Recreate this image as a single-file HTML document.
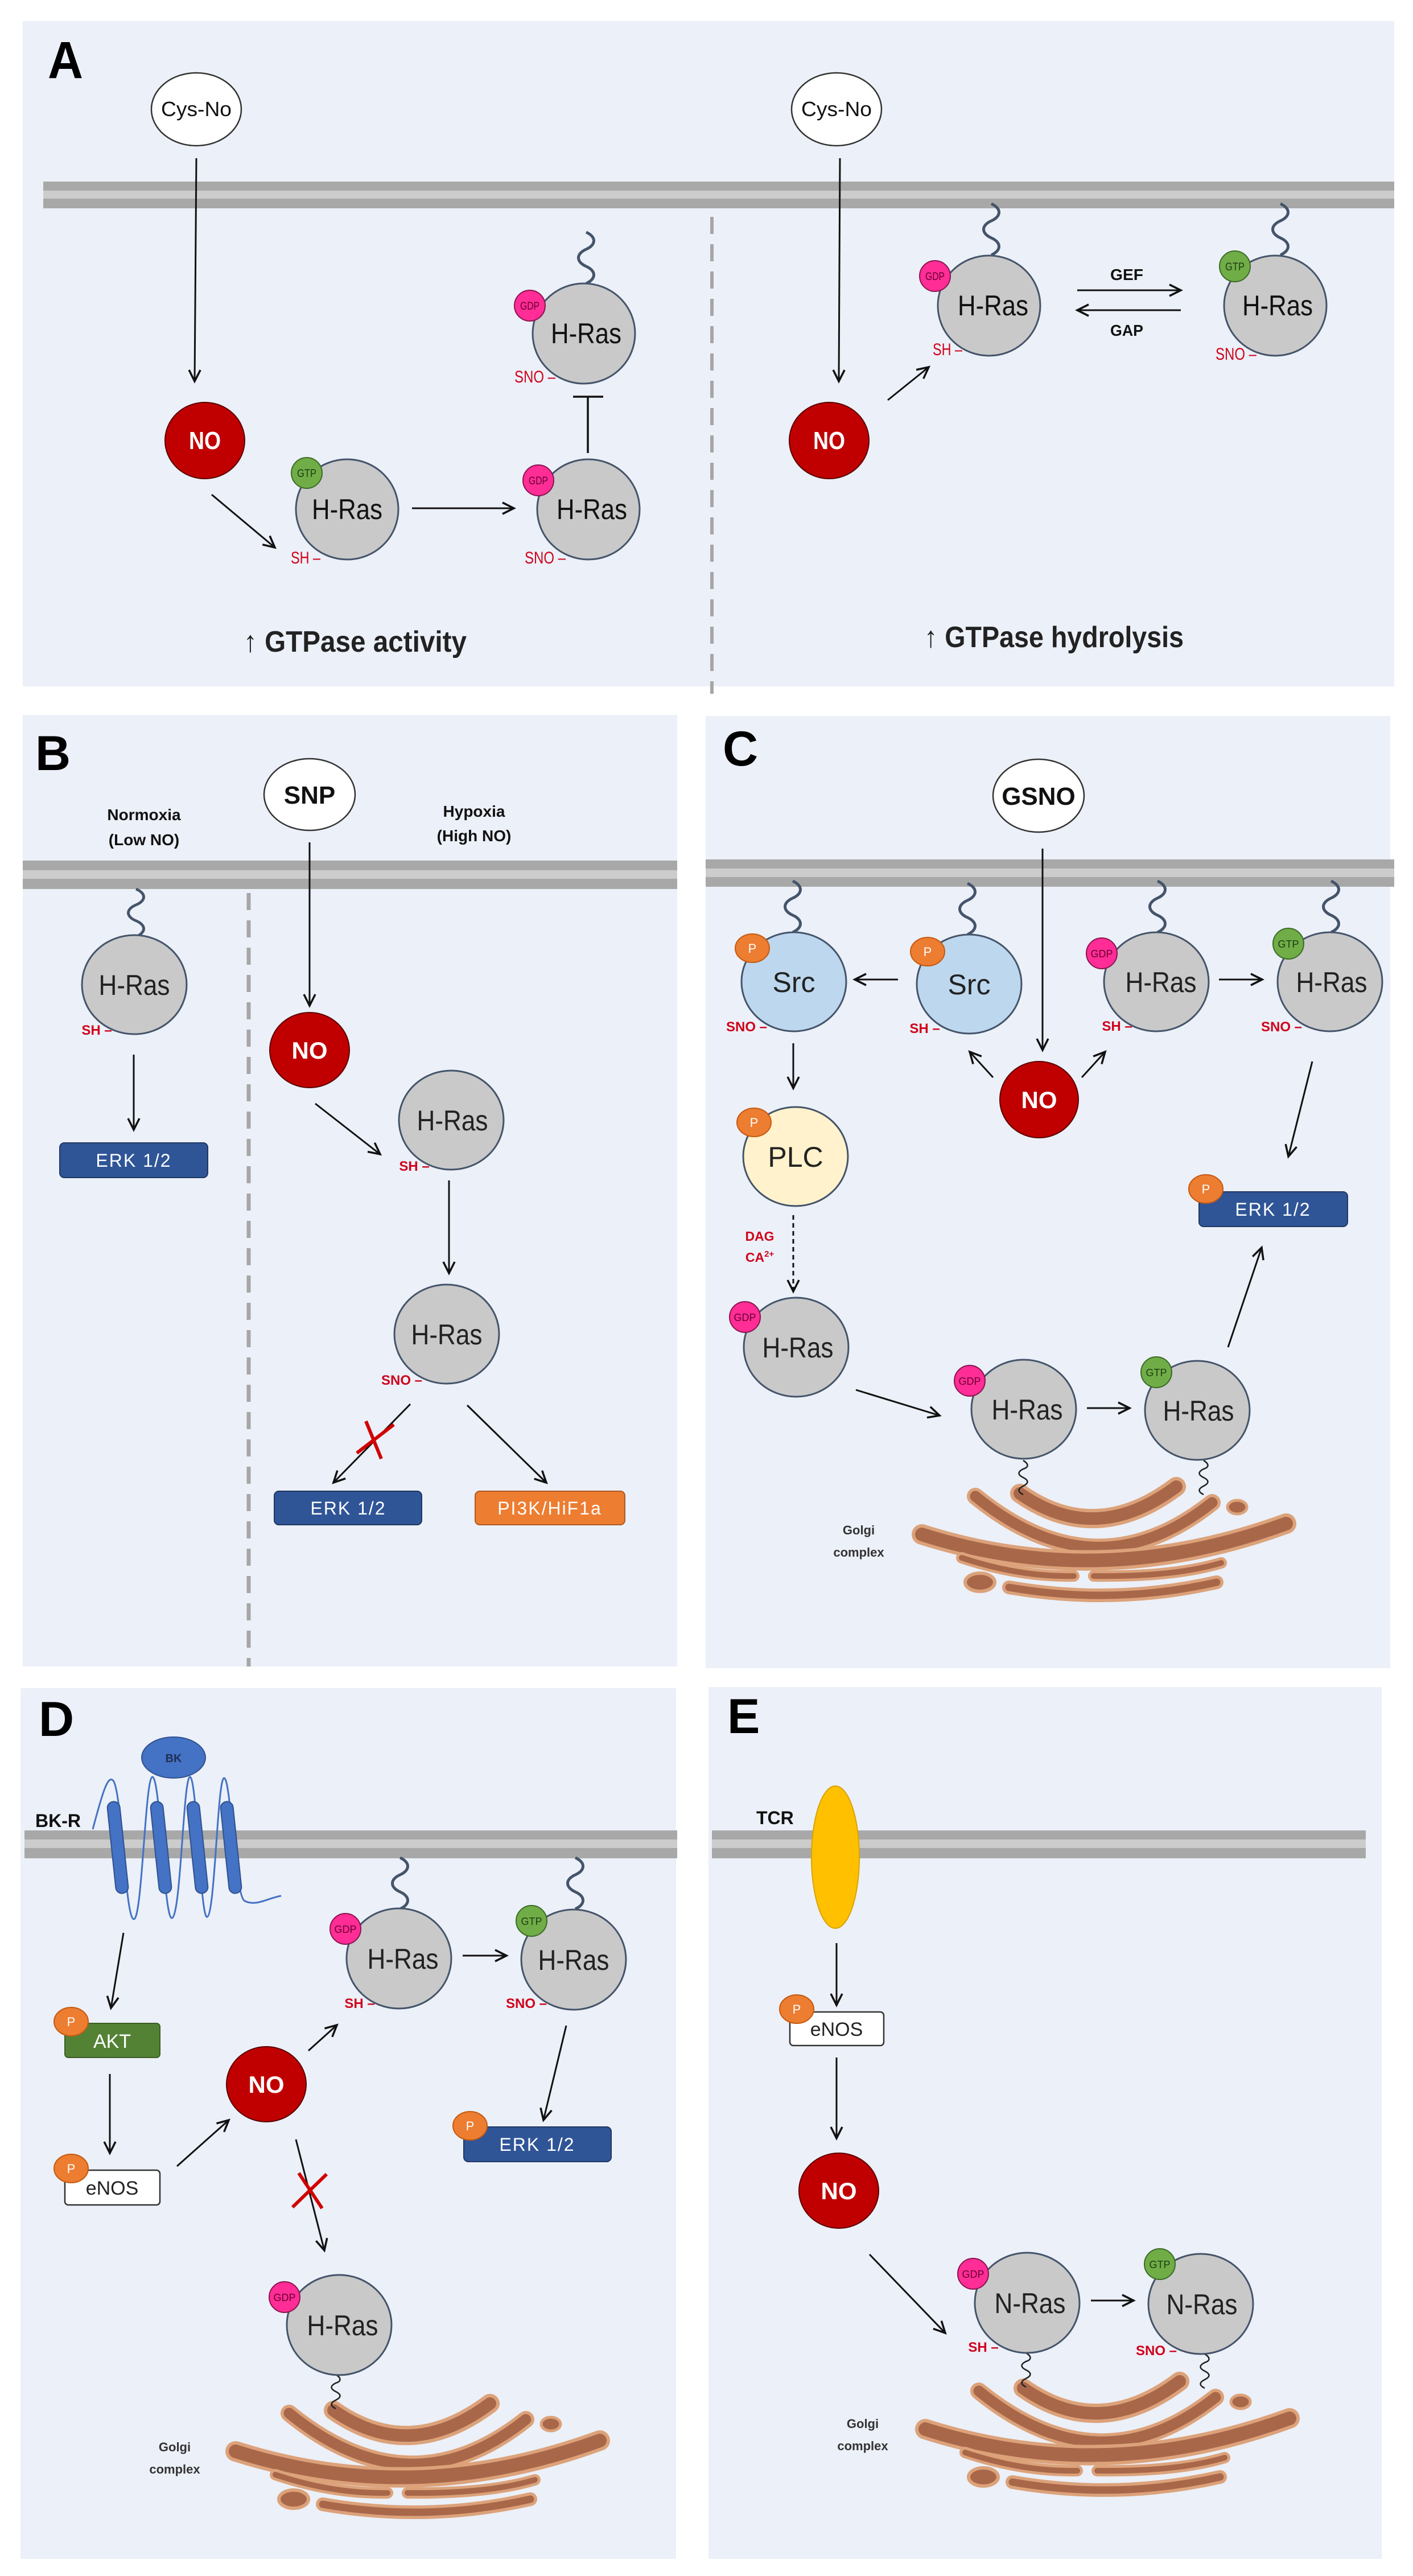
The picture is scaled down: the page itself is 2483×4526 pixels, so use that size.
<!DOCTYPE html>
<html><head><meta charset="utf-8">
<style>
html,body{margin:0;padding:0;background:#fff;}
svg{display:block;}
.n{font-family:"Liberation Sans Narrow","Liberation Sans",sans-serif;}
.s{font-family:"Liberation Sans","DejaVu Sans",sans-serif;}
</style></head>
<body>
<svg width="2483" height="4526" viewBox="0 0 2483 4526" xmlns="http://www.w3.org/2000/svg">
<defs>
<marker id="ah" markerUnits="userSpaceOnUse" markerWidth="26" markerHeight="26" refX="22" refY="12" orient="auto">
<path d="M2,2 L22,12 L2,22" fill="none" stroke="#111" stroke-width="3.5"/>
</marker>
<g id="golgi">
<g fill="none" stroke-linecap="round">
<path d="M180,28 Q314,122 455,16" stroke="#dca27a" stroke-width="34"/>
<path d="M180,28 Q314,122 455,16" stroke="#a9674a" stroke-width="22"/>
<path d="M102,33 Q314,206 518,44" stroke="#dca27a" stroke-width="30"/>
<path d="M102,33 Q314,206 518,44" stroke="#a9674a" stroke-width="19"/>
<path d="M8,100 Q322,200 648,81" stroke="#dca27a" stroke-width="36"/>
<path d="M8,100 Q322,200 648,81" stroke="#a9674a" stroke-width="24"/>
<path d="M78,141 Q180,175 275,173" stroke="#dca27a" stroke-width="20"/>
<path d="M78,141 Q180,175 275,173" stroke="#a9674a" stroke-width="10"/>
<path d="M310,173 Q450,175 534,150" stroke="#dca27a" stroke-width="20"/>
<path d="M310,173 Q450,175 534,150" stroke="#a9674a" stroke-width="10"/>
<path d="M161,193 Q345,225 526,184" stroke="#dca27a" stroke-width="24"/>
<path d="M161,193 Q345,225 526,184" stroke="#a9674a" stroke-width="13"/>
</g>
<ellipse cx="562" cy="52" rx="17" ry="12" fill="#a9674a" stroke="#dca27a" stroke-width="5"/>
<ellipse cx="110" cy="184" rx="26" ry="16" fill="#a9674a" stroke="#dca27a" stroke-width="6"/>
</g>
<path id="sq" d="M0,0 c18,8 18,22 0,30 c-18,8 -18,22 0,30 c18,8 18,22 0,30" fill="none" stroke="#44546a" stroke-width="5"/>
<path id="sqt" d="M0,0 c10,6 10,12 0,15 c-10,5 -10,10 0,15 c10,5 10,10 0,15 c-10,5 -10,10 0,15" fill="none" stroke="#222" stroke-width="2.5"/>
</defs>

<rect width="2483" height="4526" fill="#fff"/>
<rect x="40" y="37" width="2410" height="1169" fill="#ecf0f8"/>
<rect x="40" y="1256" width="1150" height="1672" fill="#ecf0f8"/>
<rect x="1240" y="1258" width="1203" height="1673" fill="#ecf0f8"/>
<rect x="36" y="2966" width="1152" height="1530" fill="#ecf0f8"/>
<rect x="1245" y="2964" width="1183" height="1532" fill="#ecf0f8"/>

<g>
<rect x="76" y="319" width="2374" height="47" fill="#a8a8a8"/><rect x="76" y="335" width="2374" height="14" fill="#cccccc"/>
<rect x="40" y="1512" width="1150" height="50" fill="#a8a8a8"/><rect x="40" y="1529" width="1150" height="15" fill="#cccccc"/>
<rect x="1240" y="1510" width="1210" height="48" fill="#a8a8a8"/><rect x="1240" y="1526" width="1210" height="15" fill="#cccccc"/>
<rect x="43" y="3216" width="1147" height="49" fill="#a8a8a8"/><rect x="43" y="3232" width="1147" height="15" fill="#cccccc"/>
<rect x="1251" y="3216" width="1149" height="49" fill="#a8a8a8"/><rect x="1251" y="3232" width="1149" height="15" fill="#cccccc"/>
</g>

<g class="s" font-weight="bold" fill="#000">
<text x="84" y="137" font-size="92" textLength="62" lengthAdjust="spacingAndGlyphs">A</text>
<text x="62" y="1353" font-size="86">B</text>
<text x="1270" y="1345" font-size="86">C</text>
<text x="68" y="3050" font-size="86">D</text>
<text x="1278" y="3045" font-size="86">E</text>
</g>

<line x1="1251" y1="381" x2="1251" y2="1219" stroke="#a6a6a6" stroke-width="6" stroke-dasharray="30 18"/>
<line x1="437" y1="1569" x2="437" y2="2928" stroke="#a6a6a6" stroke-width="7" stroke-dasharray="30 18"/>

<!-- PANEL A -->
<g class="n">
<ellipse cx="345" cy="192" rx="79" ry="64" fill="#fff" stroke="#333" stroke-width="2.5"/>
<text x="345" y="204" font-size="36" text-anchor="middle" fill="#111" textLength="124" lengthAdjust="spacingAndGlyphs">Cys-No</text>
<ellipse cx="1470" cy="192" rx="79" ry="64" fill="#fff" stroke="#333" stroke-width="2.5"/>
<text x="1470" y="204" font-size="36" text-anchor="middle" fill="#111" textLength="124" lengthAdjust="spacingAndGlyphs">Cys-No</text>
</g>
<g stroke="#111" stroke-width="3" marker-end="url(#ah)">
<line x1="345" y1="278" x2="342" y2="670"/>
<line x1="1476" y1="278" x2="1474" y2="670"/>
<line x1="372" y1="869" x2="483" y2="962"/>
<line x1="724" y1="893" x2="903" y2="893"/>
<line x1="1560" y1="703" x2="1632" y2="645"/>
<line x1="1893" y1="510" x2="2075" y2="510"/>
<line x1="2075" y1="545" x2="1893" y2="545"/>
</g>
<line x1="1033" y1="796" x2="1033" y2="697" stroke="#111" stroke-width="3.5"/>
<line x1="1007" y1="697" x2="1060" y2="697" stroke="#111" stroke-width="3.5"/>

<g class="n" font-weight="bold">
<ellipse cx="360" cy="774" rx="70" ry="67" fill="#c00000" stroke="#5a0000" stroke-width="2"/>
<text x="360" y="789" font-size="44" fill="#fff" text-anchor="middle" textLength="56" lengthAdjust="spacingAndGlyphs">NO</text>
<ellipse cx="1457" cy="774" rx="70" ry="67" fill="#c00000" stroke="#5a0000" stroke-width="2"/>
<text x="1457" y="789" font-size="44" fill="#fff" text-anchor="middle" textLength="56" lengthAdjust="spacingAndGlyphs">NO</text>
</g>

<use href="#sq" transform="translate(1030,408)"/>
<use href="#sq" transform="translate(1742,358)"/>
<use href="#sq" transform="translate(2250,358)"/>

<g class="n">
<ellipse cx="610" cy="895" rx="90" ry="88" fill="#c9c9c9" stroke="#44546a" stroke-width="3"/>
<text x="610" y="912" font-size="50" text-anchor="middle" fill="#111" textLength="124" lengthAdjust="spacingAndGlyphs">H-Ras</text>
<circle cx="539" cy="831" r="27" fill="#70ad47" stroke="#3d6b27" stroke-width="2"/>
<text x="539" y="838" font-size="19" text-anchor="middle" fill="#1e3d12" textLength="34" lengthAdjust="spacingAndGlyphs">GTP</text>
<text x="537" y="990" font-size="30" text-anchor="middle" fill="#d0021b" textLength="52" lengthAdjust="spacingAndGlyphs">SH –</text>
<ellipse cx="1034" cy="895" rx="90" ry="88" fill="#c9c9c9" stroke="#44546a" stroke-width="3"/>
<text x="1040" y="912" font-size="50" text-anchor="middle" fill="#111" textLength="124" lengthAdjust="spacingAndGlyphs">H-Ras</text>
<circle cx="946" cy="844" r="27" fill="#ff2d95" stroke="#8a1452" stroke-width="2"/>
<text x="946" y="851" font-size="19" text-anchor="middle" fill="#6a0033" textLength="34" lengthAdjust="spacingAndGlyphs">GDP</text>
<text x="958" y="990" font-size="30" text-anchor="middle" fill="#d0021b" textLength="72" lengthAdjust="spacingAndGlyphs">SNO –</text>
<ellipse cx="1026" cy="586" rx="90" ry="88" fill="#c9c9c9" stroke="#44546a" stroke-width="3"/>
<text x="1030" y="603" font-size="50" text-anchor="middle" fill="#111" textLength="124" lengthAdjust="spacingAndGlyphs">H-Ras</text>
<circle cx="931" cy="537" r="27" fill="#ff2d95" stroke="#8a1452" stroke-width="2"/>
<text x="931" y="544" font-size="19" text-anchor="middle" fill="#6a0033" textLength="34" lengthAdjust="spacingAndGlyphs">GDP</text>
<text x="940" y="672" font-size="30" text-anchor="middle" fill="#d0021b" textLength="72" lengthAdjust="spacingAndGlyphs">SNO –</text>
<ellipse cx="1738" cy="537" rx="90" ry="88" fill="#c9c9c9" stroke="#44546a" stroke-width="3"/>
<text x="1745" y="554" font-size="50" text-anchor="middle" fill="#111" textLength="124" lengthAdjust="spacingAndGlyphs">H-Ras</text>
<circle cx="1643" cy="485" r="27" fill="#ff2d95" stroke="#8a1452" stroke-width="2"/>
<text x="1643" y="492" font-size="19" text-anchor="middle" fill="#6a0033" textLength="34" lengthAdjust="spacingAndGlyphs">GDP</text>
<text x="1665" y="624" font-size="30" text-anchor="middle" fill="#d0021b" textLength="52" lengthAdjust="spacingAndGlyphs">SH –</text>
<ellipse cx="2241" cy="537" rx="90" ry="88" fill="#c9c9c9" stroke="#44546a" stroke-width="3"/>
<text x="2245" y="554" font-size="50" text-anchor="middle" fill="#111" textLength="124" lengthAdjust="spacingAndGlyphs">H-Ras</text>
<circle cx="2170" cy="468" r="27" fill="#70ad47" stroke="#3d6b27" stroke-width="2"/>
<text x="2170" y="475" font-size="19" text-anchor="middle" fill="#1e3d12" textLength="34" lengthAdjust="spacingAndGlyphs">GTP</text>
<text x="2172" y="632" font-size="30" text-anchor="middle" fill="#d0021b" textLength="72" lengthAdjust="spacingAndGlyphs">SNO –</text>
<text x="1980" y="492" font-size="28" font-weight="bold" text-anchor="middle" fill="#111" textLength="58" lengthAdjust="spacingAndGlyphs">GEF</text>
<text x="1980" y="590" font-size="28" font-weight="bold" text-anchor="middle" fill="#111" textLength="58" lengthAdjust="spacingAndGlyphs">GAP</text>
<text x="428" y="1145" font-size="52" font-weight="bold" fill="#222" textLength="392" lengthAdjust="spacingAndGlyphs">↑ GTPase activity</text>
<text x="1624" y="1137" font-size="52" font-weight="bold" fill="#222" textLength="456" lengthAdjust="spacingAndGlyphs">↑ GTPase hydrolysis</text>
</g>

<!-- PANEL B -->
<g class="s">
<text x="253" y="1441" font-size="28" font-weight="bold" text-anchor="middle" fill="#111">Normoxia</text>
<text x="253" y="1485" font-size="28" font-weight="bold" text-anchor="middle" fill="#111">(Low NO)</text>
<text x="833" y="1435" font-size="28" font-weight="bold" text-anchor="middle" fill="#111">Hypoxia</text>
<text x="833" y="1478" font-size="28" font-weight="bold" text-anchor="middle" fill="#111">(High NO)</text>
<ellipse cx="544" cy="1396" rx="80" ry="63" fill="#fff" stroke="#333" stroke-width="2.5"/>
<text x="544" y="1412" font-size="44" font-weight="bold" text-anchor="middle" fill="#111">SNP</text>
<ellipse cx="544" cy="1845" rx="70" ry="66" fill="#c00000" stroke="#5a0000" stroke-width="2"/>
<text x="544" y="1860" font-size="42" font-weight="bold" text-anchor="middle" fill="#fff">NO</text>
</g>
<use href="#sq" transform="translate(239,1562) scale(1,0.93)"/>
<g stroke="#111" stroke-width="3" marker-end="url(#ah)">
<line x1="544" y1="1480" x2="544" y2="1767"/>
<line x1="235" y1="1853" x2="235" y2="1985"/>
<line x1="554" y1="1939" x2="668" y2="2028"/>
<line x1="789" y1="2074" x2="789" y2="2237"/>
<line x1="721" y1="2467" x2="586" y2="2605"/>
<line x1="821" y1="2469" x2="960" y2="2605"/>
</g>
<g class="s">
<ellipse cx="236" cy="1730" rx="92" ry="87" fill="#c9c9c9" stroke="#44546a" stroke-width="3"/>
<text x="236" y="1748" font-size="50" text-anchor="middle" fill="#222" textLength="125" lengthAdjust="spacingAndGlyphs">H-Ras</text>
<text x="170" y="1818" font-size="24" font-weight="bold" text-anchor="middle" fill="#d0021b">SH –</text>
<ellipse cx="793" cy="1968" rx="92" ry="87" fill="#c9c9c9" stroke="#44546a" stroke-width="3"/>
<text x="795" y="1986" font-size="50" text-anchor="middle" fill="#222" textLength="125" lengthAdjust="spacingAndGlyphs">H-Ras</text>
<text x="728" y="2057" font-size="24" font-weight="bold" text-anchor="middle" fill="#d0021b">SH –</text>
<ellipse cx="785" cy="2344" rx="92" ry="87" fill="#c9c9c9" stroke="#44546a" stroke-width="3"/>
<text x="785" y="2362" font-size="50" text-anchor="middle" fill="#222" textLength="125" lengthAdjust="spacingAndGlyphs">H-Ras</text>
<text x="706" y="2433" font-size="24" font-weight="bold" text-anchor="middle" fill="#d0021b">SNO –</text>
<rect x="105" y="2008" width="260" height="61" rx="8" fill="#2f5597" stroke="#203864" stroke-width="2"/>
<text x="235" y="2050" font-size="32" text-anchor="middle" fill="#fff" letter-spacing="2">ERK 1/2</text>
<rect x="482" y="2620" width="259" height="59" rx="8" fill="#2f5597" stroke="#203864" stroke-width="2"/>
<text x="612" y="2661" font-size="32" text-anchor="middle" fill="#fff" letter-spacing="2">ERK 1/2</text>
<rect x="835" y="2620" width="263" height="59" rx="8" fill="#ed7d31" stroke="#ae5a21" stroke-width="2"/>
<text x="966" y="2661" font-size="32" text-anchor="middle" fill="#fff" letter-spacing="2">PI3K/HiF1a</text>
</g>
<g stroke="#d00000" stroke-width="6">
<line x1="627" y1="2553" x2="692" y2="2503"/>
<line x1="643" y1="2497" x2="670" y2="2563"/>
</g>

<!-- PANEL C -->
<use href="#golgi" transform="translate(1612,2596)"/>
<use href="#sq" transform="translate(1393,1548)"/>
<use href="#sq" transform="translate(1700,1552)"/>
<use href="#sq" transform="translate(2034,1548)"/>
<use href="#sq" transform="translate(2339,1548)"/>
<use href="#sqt" transform="translate(1798,2566)"/>
<use href="#sqt" transform="translate(2115,2566)"/>
<g stroke="#111" stroke-width="3" marker-end="url(#ah)">
<line x1="1832" y1="1491" x2="1832" y2="1845"/>
<line x1="1578" y1="1721" x2="1502" y2="1721"/>
<line x1="2142" y1="1721" x2="2218" y2="1721"/>
<line x1="1745" y1="1893" x2="1704" y2="1848"/>
<line x1="1901" y1="1893" x2="1942" y2="1848"/>
<line x1="2306" y1="1865" x2="2264" y2="2032"/>
<line x1="1394" y1="1833" x2="1394" y2="1912"/>
<line x1="1504" y1="2442" x2="1651" y2="2487"/>
<line x1="1910" y1="2474" x2="1985" y2="2474"/>
<line x1="2158" y1="2367" x2="2217" y2="2192"/>
</g>
<line x1="1394" y1="2135" x2="1394" y2="2269" stroke="#111" stroke-width="3" stroke-dasharray="8 6" marker-end="url(#ah)"/>
<g class="s">
<ellipse cx="1825" cy="1398" rx="80" ry="64" fill="#fff" stroke="#333" stroke-width="2.5"/>
<text x="1825" y="1414" font-size="44" font-weight="bold" text-anchor="middle" fill="#111">GSNO</text>
<ellipse cx="1826" cy="1932" rx="69" ry="67" fill="#c00000" stroke="#5a0000" stroke-width="2"/>
<text x="1826" y="1947" font-size="42" font-weight="bold" text-anchor="middle" fill="#fff">NO</text>
<ellipse cx="1395" cy="1725" rx="92" ry="87" fill="#bdd7ee" stroke="#44546a" stroke-width="3"/>
<text x="1395" y="1743" font-size="50" text-anchor="middle" fill="#222">Src</text>
<ellipse cx="1322" cy="1666" rx="30" ry="25" fill="#ed7d31" stroke="#c55a11" stroke-width="2"/>
<text x="1322" y="1674" font-size="22" text-anchor="middle" fill="#fff">P</text>
<text x="1312" y="1812" font-size="24" font-weight="bold" text-anchor="middle" fill="#d0021b">SNO –</text>
<ellipse cx="1703" cy="1729" rx="92" ry="87" fill="#bdd7ee" stroke="#44546a" stroke-width="3"/>
<text x="1703" y="1747" font-size="50" text-anchor="middle" fill="#222">Src</text>
<ellipse cx="1630" cy="1672" rx="30" ry="25" fill="#ed7d31" stroke="#c55a11" stroke-width="2"/>
<text x="1630" y="1680" font-size="22" text-anchor="middle" fill="#fff">P</text>
<text x="1625" y="1815" font-size="24" font-weight="bold" text-anchor="middle" fill="#d0021b">SH –</text>
<ellipse cx="2032" cy="1725" rx="92" ry="87" fill="#c9c9c9" stroke="#44546a" stroke-width="3"/>
<text x="2040" y="1743" font-size="50" text-anchor="middle" fill="#222" textLength="125" lengthAdjust="spacingAndGlyphs">H-Ras</text>
<circle cx="1936" cy="1675" r="27" fill="#ff2d95" stroke="#8a1452" stroke-width="2"/>
<text x="1936" y="1682" font-size="18" text-anchor="middle" fill="#6a0033">GDP</text>
<text x="1963" y="1811" font-size="24" font-weight="bold" text-anchor="middle" fill="#d0021b">SH –</text>
<ellipse cx="2337" cy="1725" rx="92" ry="87" fill="#c9c9c9" stroke="#44546a" stroke-width="3"/>
<text x="2340" y="1743" font-size="50" text-anchor="middle" fill="#222" textLength="125" lengthAdjust="spacingAndGlyphs">H-Ras</text>
<circle cx="2264" cy="1658" r="27" fill="#70ad47" stroke="#3d6b27" stroke-width="2"/>
<text x="2264" y="1665" font-size="18" text-anchor="middle" fill="#1e3d12">GTP</text>
<text x="2252" y="1812" font-size="24" font-weight="bold" text-anchor="middle" fill="#d0021b">SNO –</text>
<rect x="2107" y="2094" width="261" height="61" rx="8" fill="#2f5597" stroke="#203864" stroke-width="2"/>
<text x="2237" y="2136" font-size="32" text-anchor="middle" fill="#fff" letter-spacing="2">ERK 1/2</text>
<ellipse cx="2119" cy="2089" rx="30" ry="25" fill="#ed7d31" stroke="#c55a11" stroke-width="2"/>
<text x="2119" y="2097" font-size="22" text-anchor="middle" fill="#fff">P</text>
<ellipse cx="1398" cy="2032" rx="92" ry="87" fill="#fff2cc" stroke="#44546a" stroke-width="3"/>
<text x="1398" y="2050" font-size="50" text-anchor="middle" fill="#222">PLC</text>
<ellipse cx="1325" cy="1972" rx="30" ry="25" fill="#ed7d31" stroke="#c55a11" stroke-width="2"/>
<text x="1325" y="1980" font-size="22" text-anchor="middle" fill="#fff">P</text>
<text x="1335" y="2180" font-size="23" font-weight="bold" text-anchor="middle" fill="#d0021b">DAG</text>
<text x="1335" y="2217" font-size="23" font-weight="bold" text-anchor="middle" fill="#d0021b">CA<tspan font-size="15" dy="-9">2+</tspan></text>
<ellipse cx="1399" cy="2367" rx="92" ry="87" fill="#c9c9c9" stroke="#44546a" stroke-width="3"/>
<text x="1402" y="2385" font-size="50" text-anchor="middle" fill="#222" textLength="125" lengthAdjust="spacingAndGlyphs">H-Ras</text>
<circle cx="1309" cy="2314" r="27" fill="#ff2d95" stroke="#8a1452" stroke-width="2"/>
<text x="1309" y="2321" font-size="18" text-anchor="middle" fill="#6a0033">GDP</text>
<ellipse cx="1799" cy="2476" rx="92" ry="87" fill="#c9c9c9" stroke="#44546a" stroke-width="3"/>
<text x="1805" y="2494" font-size="50" text-anchor="middle" fill="#222" textLength="125" lengthAdjust="spacingAndGlyphs">H-Ras</text>
<circle cx="1704" cy="2426" r="27" fill="#ff2d95" stroke="#8a1452" stroke-width="2"/>
<text x="1704" y="2433" font-size="18" text-anchor="middle" fill="#6a0033">GDP</text>
<ellipse cx="2104" cy="2478" rx="92" ry="87" fill="#c9c9c9" stroke="#44546a" stroke-width="3"/>
<text x="2106" y="2496" font-size="50" text-anchor="middle" fill="#222" textLength="125" lengthAdjust="spacingAndGlyphs">H-Ras</text>
<circle cx="2032" cy="2411" r="27" fill="#70ad47" stroke="#3d6b27" stroke-width="2"/>
<text x="2032" y="2418" font-size="18" text-anchor="middle" fill="#1e3d12">GTP</text>
<text x="1509" y="2696" font-size="22" font-weight="bold" text-anchor="middle" fill="#333">Golgi</text>
<text x="1509" y="2735" font-size="22" font-weight="bold" text-anchor="middle" fill="#333">complex</text>
</g>

<!-- PANEL D -->
<use href="#golgi" transform="translate(406,4207)"/>
<use href="#sq" transform="translate(703,3264)"/>
<use href="#sq" transform="translate(1011,3264)"/>
<use href="#sqt" transform="translate(590,4172)"/>
<path d="M163,3214 C180,3150 190,3115 200,3130 C215,3160 220,3370 235,3372 C250,3374 255,3120 268,3122 C282,3124 288,3372 302,3370 C318,3368 322,3120 334,3122 C346,3124 352,3372 364,3368 C378,3364 382,3122 394,3124 C406,3126 412,3330 430,3340 C450,3350 470,3335 494,3331" fill="none" stroke="#4472c4" stroke-width="3"/>
<g fill="#4472c4" stroke="#2f528f" stroke-width="2">
<rect x="196" y="3165" width="22" height="162" rx="11" transform="rotate(-6 207 3246)"/>
<rect x="272" y="3165" width="22" height="162" rx="11" transform="rotate(-6 283 3246)"/>
<rect x="336" y="3165" width="22" height="162" rx="11" transform="rotate(-6 347 3246)"/>
<rect x="395" y="3165" width="22" height="162" rx="11" transform="rotate(-6 406 3246)"/>
</g>
<ellipse cx="305" cy="3088" rx="56" ry="36" fill="#4472c4" stroke="#2f528f" stroke-width="2"/>
<g stroke="#111" stroke-width="3" marker-end="url(#ah)">
<line x1="217" y1="3396" x2="195" y2="3528"/>
<line x1="193" y1="3644" x2="193" y2="3783"/>
<line x1="311" y1="3806" x2="402" y2="3725"/>
<line x1="542" y1="3603" x2="592" y2="3558"/>
<line x1="813" y1="3436" x2="890" y2="3436"/>
<line x1="995" y1="3559" x2="955" y2="3725"/>
<line x1="520" y1="3759" x2="570" y2="3954"/>
</g>
<g stroke="#d00000" stroke-width="6">
<line x1="514" y1="3878" x2="574" y2="3820"/>
<line x1="525" y1="3818" x2="566" y2="3880"/>
</g>
<g class="s">
<text x="305" y="3096" font-size="20" font-weight="bold" text-anchor="middle" fill="#1f2f55">BK</text>
<text x="62" y="3210" font-size="32" font-weight="bold" fill="#111">BK-R</text>
<rect x="114" y="3555" width="167" height="60" rx="6" fill="#548235" stroke="#3b5e24" stroke-width="2"/>
<text x="197" y="3598" font-size="34" text-anchor="middle" fill="#fff">AKT</text>
<ellipse cx="125" cy="3552" rx="30" ry="25" fill="#ed7d31" stroke="#c55a11" stroke-width="2"/>
<text x="125" y="3560" font-size="22" text-anchor="middle" fill="#fff">P</text>
<rect x="114" y="3813" width="167" height="61" rx="6" fill="#fff" stroke="#333" stroke-width="2.5"/>
<text x="197" y="3856" font-size="34" text-anchor="middle" fill="#222">eNOS</text>
<ellipse cx="125" cy="3810" rx="30" ry="25" fill="#ed7d31" stroke="#c55a11" stroke-width="2"/>
<text x="125" y="3818" font-size="22" text-anchor="middle" fill="#fff">P</text>
<ellipse cx="468" cy="3662" rx="70" ry="66" fill="#c00000" stroke="#5a0000" stroke-width="2"/>
<text x="468" y="3677" font-size="42" font-weight="bold" text-anchor="middle" fill="#fff">NO</text>
<ellipse cx="701" cy="3441" rx="92" ry="88" fill="#c9c9c9" stroke="#44546a" stroke-width="3"/>
<text x="708" y="3459" font-size="50" text-anchor="middle" fill="#222" textLength="125" lengthAdjust="spacingAndGlyphs">H-Ras</text>
<circle cx="607" cy="3389" r="27" fill="#ff2d95" stroke="#8a1452" stroke-width="2"/>
<text x="607" y="3396" font-size="18" text-anchor="middle" fill="#6a0033">GDP</text>
<text x="632" y="3528" font-size="24" font-weight="bold" text-anchor="middle" fill="#d0021b">SH –</text>
<ellipse cx="1008" cy="3443" rx="92" ry="88" fill="#c9c9c9" stroke="#44546a" stroke-width="3"/>
<text x="1008" y="3461" font-size="50" text-anchor="middle" fill="#222" textLength="125" lengthAdjust="spacingAndGlyphs">H-Ras</text>
<circle cx="934" cy="3375" r="27" fill="#70ad47" stroke="#3d6b27" stroke-width="2"/>
<text x="934" y="3382" font-size="18" text-anchor="middle" fill="#1e3d12">GTP</text>
<text x="925" y="3528" font-size="24" font-weight="bold" text-anchor="middle" fill="#d0021b">SNO –</text>
<rect x="815" y="3737" width="259" height="61" rx="8" fill="#2f5597" stroke="#203864" stroke-width="2"/>
<text x="944" y="3779" font-size="32" text-anchor="middle" fill="#fff" letter-spacing="2">ERK 1/2</text>
<ellipse cx="826" cy="3735" rx="30" ry="25" fill="#ed7d31" stroke="#c55a11" stroke-width="2"/>
<text x="826" y="3743" font-size="22" text-anchor="middle" fill="#fff">P</text>
<ellipse cx="596" cy="4085" rx="92" ry="88" fill="#c9c9c9" stroke="#44546a" stroke-width="3"/>
<text x="602" y="4103" font-size="50" text-anchor="middle" fill="#222" textLength="125" lengthAdjust="spacingAndGlyphs">H-Ras</text>
<circle cx="500" cy="4036" r="27" fill="#ff2d95" stroke="#8a1452" stroke-width="2"/>
<text x="500" y="4043" font-size="18" text-anchor="middle" fill="#6a0033">GDP</text>
<text x="307" y="4307" font-size="22" font-weight="bold" text-anchor="middle" fill="#333">Golgi</text>
<text x="307" y="4346" font-size="22" font-weight="bold" text-anchor="middle" fill="#333">complex</text>
</g>

<!-- PANEL E -->
<use href="#golgi" transform="translate(1618,4168)"/>
<use href="#sqt" transform="translate(1803,4134)"/>
<use href="#sqt" transform="translate(2117,4136)"/>
<ellipse cx="1468" cy="3263" rx="42" ry="125" fill="#ffc000" stroke="#d9a300" stroke-width="2"/>
<g stroke="#111" stroke-width="3" marker-end="url(#ah)">
<line x1="1470" y1="3414" x2="1470" y2="3523"/>
<line x1="1470" y1="3615" x2="1470" y2="3757"/>
<line x1="1528" y1="3961" x2="1661" y2="4099"/>
<line x1="1917" y1="4042" x2="1992" y2="4042"/>
</g>
<g class="s">
<text x="1329" y="3205" font-size="32" font-weight="bold" fill="#111">TCR</text>
<rect x="1388" y="3535" width="165" height="59" rx="6" fill="#fff" stroke="#333" stroke-width="2.5"/>
<text x="1470" y="3577" font-size="34" text-anchor="middle" fill="#222">eNOS</text>
<ellipse cx="1400" cy="3530" rx="30" ry="25" fill="#ed7d31" stroke="#c55a11" stroke-width="2"/>
<text x="1400" y="3538" font-size="22" text-anchor="middle" fill="#fff">P</text>
<ellipse cx="1474" cy="3849" rx="70" ry="66" fill="#c00000" stroke="#5a0000" stroke-width="2"/>
<text x="1474" y="3864" font-size="42" font-weight="bold" text-anchor="middle" fill="#fff">NO</text>
<ellipse cx="1805" cy="4046" rx="92" ry="88" fill="#c9c9c9" stroke="#44546a" stroke-width="3"/>
<text x="1810" y="4064" font-size="50" text-anchor="middle" fill="#222" textLength="125" lengthAdjust="spacingAndGlyphs">N-Ras</text>
<circle cx="1710" cy="3995" r="27" fill="#ff2d95" stroke="#8a1452" stroke-width="2"/>
<text x="1710" y="4002" font-size="18" text-anchor="middle" fill="#6a0033">GDP</text>
<text x="1728" y="4132" font-size="24" font-weight="bold" text-anchor="middle" fill="#d0021b">SH –</text>
<ellipse cx="2110" cy="4048" rx="92" ry="88" fill="#c9c9c9" stroke="#44546a" stroke-width="3"/>
<text x="2112" y="4066" font-size="50" text-anchor="middle" fill="#222" textLength="125" lengthAdjust="spacingAndGlyphs">N-Ras</text>
<circle cx="2038" cy="3978" r="27" fill="#70ad47" stroke="#3d6b27" stroke-width="2"/>
<text x="2038" y="3985" font-size="18" text-anchor="middle" fill="#1e3d12">GTP</text>
<text x="2032" y="4138" font-size="24" font-weight="bold" text-anchor="middle" fill="#d0021b">SNO –</text>
<text x="1516" y="4266" font-size="22" font-weight="bold" text-anchor="middle" fill="#333">Golgi</text>
<text x="1516" y="4305" font-size="22" font-weight="bold" text-anchor="middle" fill="#333">complex</text>
</g>
</svg>
</body></html>
